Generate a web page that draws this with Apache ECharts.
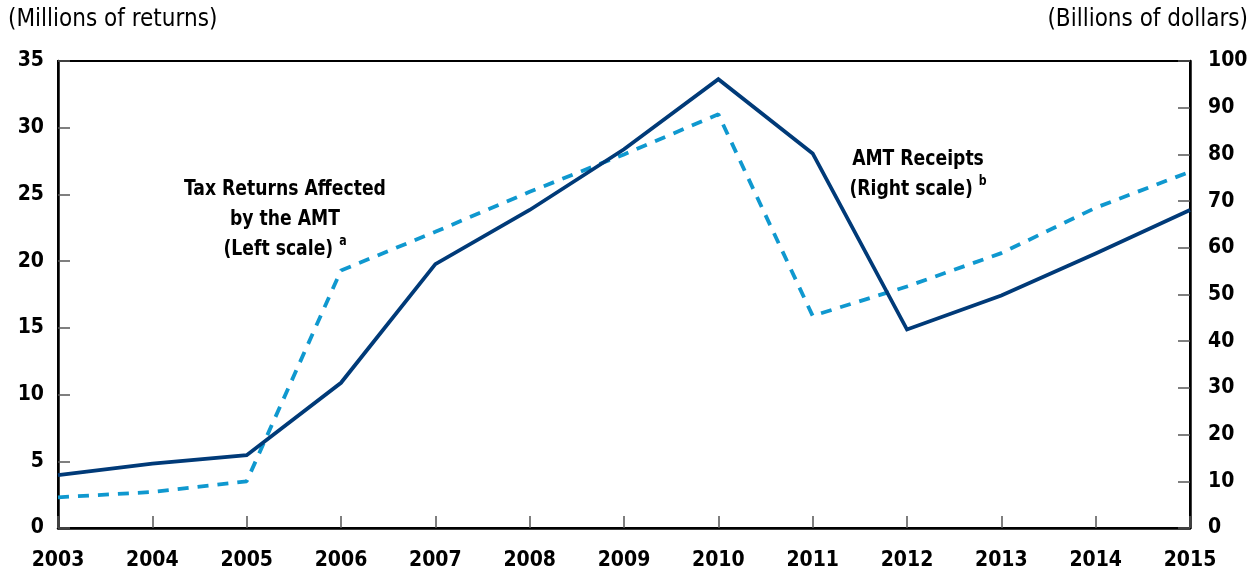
<!DOCTYPE html>
<html>
<head>
<meta charset="utf-8">
<script src="https://cdn.jsdelivr.net/npm/echarts@6/dist/echarts.min.js"></script>
<style>
  html, body { margin: 0; padding: 0; background: #fff; }
  #chart { width: 1256px; height: 569px; }
</style>
</head>
<body>
<div id="chart"></div>
<script>
// Years on the horizontal axis
const years = ['2003', '2004', '2005', '2006', '2007', '2008', '2009',
               '2010', '2011', '2012', '2013', '2014', '2015'];

// Tax returns affected by the AMT, millions of returns (left scale)
const returnsAffected = [2.3, 2.7, 3.5, 19.3, 22.2, 25.2, 28.0,
                         31.0, 15.9, 18.1, 20.6, 24.0, 26.7];

// AMT receipts, billions of dollars (right scale)
const amtReceipts = [11.3, 13.8, 15.6, 31.1, 56.5, 68.1, 81.1,
                     96.1, 80.2, 42.5, 49.8, 58.8, 68.1];

// Axis ranges
const leftMax = 35, leftStep = 5;
const rightMax = 100, rightStep = 10;

const FONT = "'Liberation Sans Narrow', 'DejaVu Sans Condensed', 'Roboto', sans-serif";
const NAVY = '#003a78';
const BLUE = '#0f98cf';

const chart = echarts.init(document.getElementById('chart'), null, { renderer: 'canvas' });

const noteRich = {
  s: { fontSize: 14, fontWeight: 'bold', fontFamily: FONT, verticalAlign: 'top', padding: [0, 0, 12, 0] }
};

chart.setOption({
  animation: false,
  backgroundColor: '#fff',
  grid: {
    left: 58, right: 66, top: 61, bottom: 41,
    outerBoundsMode: 'none',
    show: true, borderColor: '#000', borderWidth: 2, backgroundColor: 'transparent'
  },
  xAxis: {
    type: 'category',
    data: years,
    boundaryGap: false,
    axisLine: { show: true, lineStyle: { color: '#000', width: 2.5 } },
    axisTick: { show: true, inside: true, length: 12, lineStyle: { color: '#555', width: 1.5 } },
    axisLabel: { color: '#000', fontFamily: FONT, fontWeight: 'bold', fontSize: 21, margin: 22 },
    splitLine: { show: false }
  },
  yAxis: [
    {
      type: 'value', min: 0, max: leftMax, interval: leftStep,
      position: 'left',
      axisLine: { show: true, lineStyle: { color: '#000', width: 2.5 } },
      axisTick: { show: true, inside: true, length: 12, lineStyle: { color: '#555', width: 1.5 } },
      axisLabel: { color: '#000', fontFamily: FONT, fontWeight: 'bold', fontSize: 21, margin: 14 },
      splitLine: { show: false }
    },
    {
      type: 'value', min: 0, max: rightMax, interval: rightStep,
      position: 'right',
      axisLine: { show: true, lineStyle: { color: '#000', width: 2.5 } },
      axisTick: { show: true, inside: true, length: 12, lineStyle: { color: '#555', width: 1.5 } },
      axisLabel: { color: '#000', fontFamily: FONT, fontWeight: 'bold', fontSize: 21, margin: 18 },
      splitLine: { show: false }
    }
  ],
  series: [
    {
      name: 'Tax Returns Affected by the AMT',
      type: 'line',
      yAxisIndex: 0,
      data: returnsAffected,
      showSymbol: false,
      lineStyle: { color: BLUE, width: 3.8, type: [11, 9], cap: 'butt' },
      z: 3
    },
    {
      name: 'AMT Receipts',
      type: 'line',
      yAxisIndex: 1,
      data: amtReceipts,
      showSymbol: false,
      lineStyle: { color: NAVY, width: 3.8, join: 'miter' },
      z: 4
    }
  ],
  graphic: [
    {
      type: 'text', left: 8, top: 8,
      style: { text: '(Millions of returns)', fontFamily: FONT, fontSize: 24, fill: '#000' }
    },
    {
      type: 'text', right: 8, top: 8,
      style: { text: '(Billions of dollars)', fontFamily: FONT, fontSize: 24, fill: '#000' }
    },
    {
      type: 'text', x: 285, y: 174, scaleX: 0.87,
      style: {
        text: 'Tax Returns Affected\nby the AMT\n(Left scale) {s|a}',
        align: 'center', fontFamily: FONT, fontWeight: 'bold', fontSize: 22,
        lineHeight: 30, fill: '#000', rich: noteRich
      }
    },
    {
      type: 'text', x: 918, y: 144, scaleX: 0.87,
      style: {
        text: 'AMT Receipts\n(Right scale) {s|b}',
        align: 'center', fontFamily: FONT, fontWeight: 'bold', fontSize: 22,
        lineHeight: 30, fill: '#000', rich: noteRich
      }
    }
  ]
});
</script>
</body>
</html>
